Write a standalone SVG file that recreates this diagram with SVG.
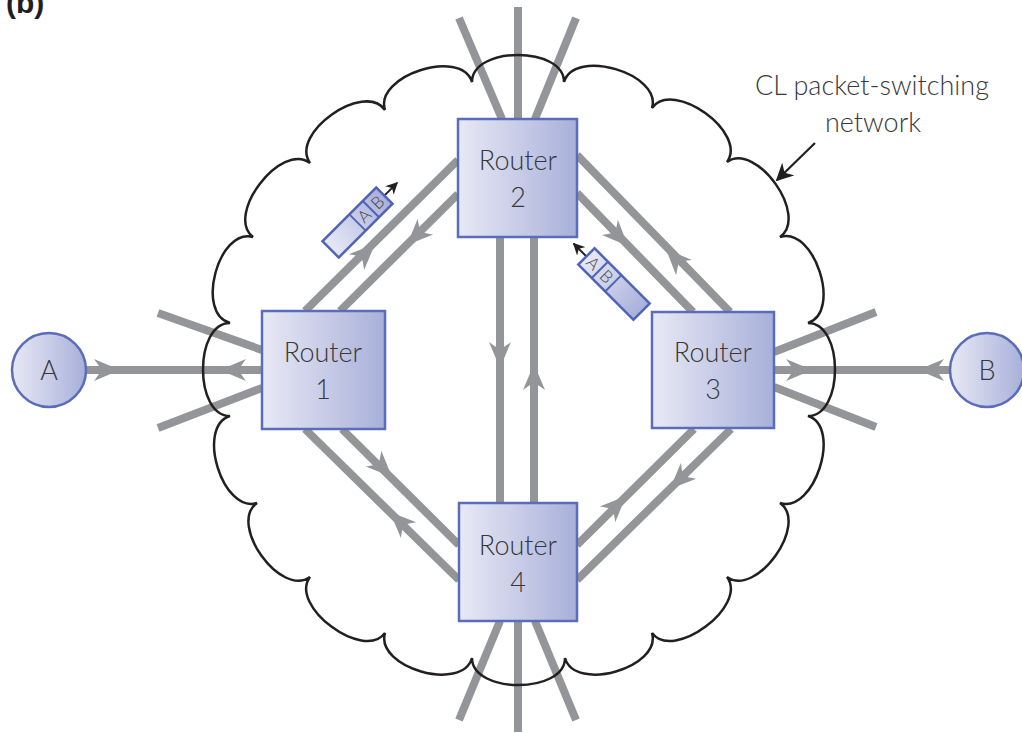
<svg xmlns="http://www.w3.org/2000/svg" xmlns:xlink="http://www.w3.org/1999/xlink" width="1022" height="733" viewBox="0 0 1022 733">
<defs>
<linearGradient id="gb" x1="0" y1="0" x2="1" y2="0">
<stop offset="0" stop-color="#e8e9f5"/>
<stop offset="1" stop-color="#a8b0da"/>
</linearGradient>
<path id="ah" d="M0,0 L-26,-11 Q-20,-3 -19,0 Q-20,3 -26,11 Z" fill="#939598"/>
<marker id="blk" viewBox="0 0 10 10" refX="9" refY="5" markerWidth="6" markerHeight="6" orient="auto" markerUnits="strokeWidth">
<path d="M0,0 L10,5 L0,10 L3,5Z" fill="#231f20"/>
</marker>
<marker id="blkL" viewBox="0 0 10 10" refX="9" refY="5" markerWidth="8" markerHeight="8" orient="auto" markerUnits="strokeWidth">
<path d="M0,0 L10,5 L0,10 L3,5Z" fill="#231f20"/>
</marker>
</defs>
<style>
.ln{stroke:#939598;stroke-width:8;fill:none}
.box{fill:url(#gb);stroke:#5a6dbb;stroke-width:2.5}
.lbl{font-family:Lato,"Liberation Sans",sans-serif;font-weight:300;fill:#383838;text-anchor:middle}
.cloud{fill:none;stroke:#231f20;stroke-width:2.5;stroke-linejoin:miter}
.pk{fill:url(#gb);stroke:#4f64b8;stroke-width:2.5}
.pt{font-family:Lato,"Liberation Sans",sans-serif;font-weight:300;fill:#444;font-size:17px;text-anchor:middle}
</style>
<text x="6" y="13" font-family="'Liberation Sans',sans-serif" font-weight="bold" font-size="30" fill="#231f20">(b)</text>
<g id="connectors">
<line class="ln" x1="86" y1="370" x2="262" y2="370"/>
<line class="ln" x1="158" y1="313" x2="262" y2="350"/>
<line class="ln" x1="158" y1="428" x2="262" y2="388"/>
<line class="ln" x1="774" y1="370" x2="950" y2="370"/>
<line class="ln" x1="774" y1="352" x2="876" y2="312"/>
<line class="ln" x1="774" y1="387" x2="876" y2="427"/>
<line class="ln" x1="518" y1="7" x2="518" y2="119"/>
<line class="ln" x1="459" y1="18" x2="502" y2="119"/>
<line class="ln" x1="576" y1="18" x2="535" y2="119"/>
<line class="ln" x1="518" y1="621" x2="518" y2="732"/>
<line class="ln" x1="500" y1="621" x2="459" y2="720"/>
<line class="ln" x1="535" y1="621" x2="576" y2="720"/>
<line class="ln" x1="500" y1="237" x2="500" y2="503"/>
<line class="ln" x1="534" y1="237" x2="534" y2="503"/>
<line class="ln" x1="305" y1="311" x2="458" y2="160"/>
<line class="ln" x1="340" y1="311" x2="458" y2="194"/>
<line class="ln" x1="577" y1="155" x2="730" y2="312"/>
<line class="ln" x1="577" y1="193" x2="693" y2="312"/>
<line class="ln" x1="305" y1="429" x2="459" y2="580"/>
<line class="ln" x1="342" y1="429" x2="459" y2="545"/>
<line class="ln" x1="694" y1="429" x2="577" y2="545"/>
<line class="ln" x1="731" y1="429" x2="577" y2="580"/>
<use xlink:href="#ah" transform="translate(120,370)"/>
<use xlink:href="#ah" transform="translate(220,370) rotate(180)"/>
<use xlink:href="#ah" transform="translate(812,370)"/>
<use xlink:href="#ah" transform="translate(918,370) rotate(180)"/>
<use xlink:href="#ah" transform="translate(500,368) rotate(90)"/>
<use xlink:href="#ah" transform="translate(534,364) rotate(-90)"/>
<use xlink:href="#ah" transform="translate(375,244) rotate(-44.4)"/>
<use xlink:href="#ah" transform="translate(407,245) rotate(135.2)"/>
<use xlink:href="#ah" transform="translate(628,246) rotate(46)"/>
<use xlink:href="#ah" transform="translate(666,249) rotate(-133.9)"/>
<use xlink:href="#ah" transform="translate(390,512) rotate(-135.6)"/>
<use xlink:href="#ah" transform="translate(392,477) rotate(44.8)"/>
<use xlink:href="#ah" transform="translate(626,496) rotate(-44.8)"/>
<use xlink:href="#ah" transform="translate(670,489) rotate(135.6)"/>
</g>
<g id="cloud">
<path class="cloud" d="M472,82 C472,46 564,46 564,82 C574.2,47.5 662.2,73.5 652,108 C673,78.8 748,132.8 727,162 C756.4,141.2 809.4,216.2 780,237 C814.2,225.8 842.2,311.8 808,323 C844,323 844,416 808,416 C842.3,427 814.3,514 780,503 C809.3,524 756.3,598 727,577 C748.5,605.8 673.5,661.8 652,633 C661.9,667.6 574.9,692.6 565,658 C565,694 472,694 472,658 C462.1,692.6 375.1,667.6 385,633 C363.5,661.8 288.5,605.8 310,577 C280.7,598 227.7,524 257,503 C222.6,513.7 195.6,426.7 230,416 C194,416 194,323 230,323 C195.2,313.7 218.2,227.7 253,237 C224.5,215 281.5,141 310,163 C289.2,133.6 364.2,80.6 385,110 C374,75.7 461,47.7 472,82 Z"/>
</g>
<g id="label">
<text class="lbl" x="872" y="95" font-size="27">CL packet-switching</text>
<text class="lbl" x="873" y="132" font-size="27">network</text>
<line x1="815" y1="143" x2="777" y2="180" stroke="#231f20" stroke-width="2.2" marker-end="url(#blkL)"/>
</g>
<g id="hostA">
<circle class="box" cx="49" cy="370" r="37"/>
<text class="lbl" x="49" y="380" font-size="27">A</text>
</g>
<g id="hostB">
<circle class="box" cx="987" cy="370" r="37"/>
<text class="lbl" x="987" y="380" font-size="27">B</text>
</g>
<g id="router1">
<rect class="box" x="262" y="311" width="123" height="118"/>
<text class="lbl" x="323" y="362" font-size="27">Router</text>
<text class="lbl" x="323" y="399" font-size="27">1</text>
</g>
<g id="router2">
<rect class="box" x="458" y="119" width="119" height="118"/>
<text class="lbl" x="518" y="170" font-size="27">Router</text>
<text class="lbl" x="518" y="207" font-size="27">2</text>
</g>
<g id="router3">
<rect class="box" x="652" y="312" width="122" height="116"/>
<text class="lbl" x="713" y="362" font-size="27">Router</text>
<text class="lbl" x="713" y="399" font-size="27">3</text>
</g>
<g id="router4">
<rect class="box" x="459" y="503" width="118" height="118"/>
<text class="lbl" x="518" y="555" font-size="27">Router</text>
<text class="lbl" x="518" y="592" font-size="27">4</text>
</g>
<g id="packet1" transform="translate(357.5,222.5) rotate(-45)">
<line x1="38" y1="0" x2="56" y2="0" stroke="#231f20" stroke-width="2" marker-end="url(#blk)"/>
<rect class="pk" x="-38" y="-11.5" width="76" height="23"/>
<line x1="0" y1="-11.5" x2="0" y2="11.5" stroke="#4f64b8" stroke-width="2"/>
<line x1="19" y1="-11.5" x2="19" y2="11.5" stroke="#4f64b8" stroke-width="2"/>
<text class="pt" x="9.5" y="6">A</text>
<text class="pt" x="28.5" y="6">B</text>
</g>
<g id="packet2" transform="translate(614,284) rotate(45)">
<line x1="-39" y1="0" x2="-57" y2="0" stroke="#231f20" stroke-width="2" marker-end="url(#blk)"/>
<rect class="pk" x="-39" y="-11.5" width="78" height="23"/>
<line x1="-20" y1="-11.5" x2="-20" y2="11.5" stroke="#4f64b8" stroke-width="2"/>
<line x1="-1" y1="-11.5" x2="-1" y2="11.5" stroke="#4f64b8" stroke-width="2"/>
<text class="pt" x="-29.5" y="6">A</text>
<text class="pt" x="-10.5" y="6">B</text>
</g>
</svg>
